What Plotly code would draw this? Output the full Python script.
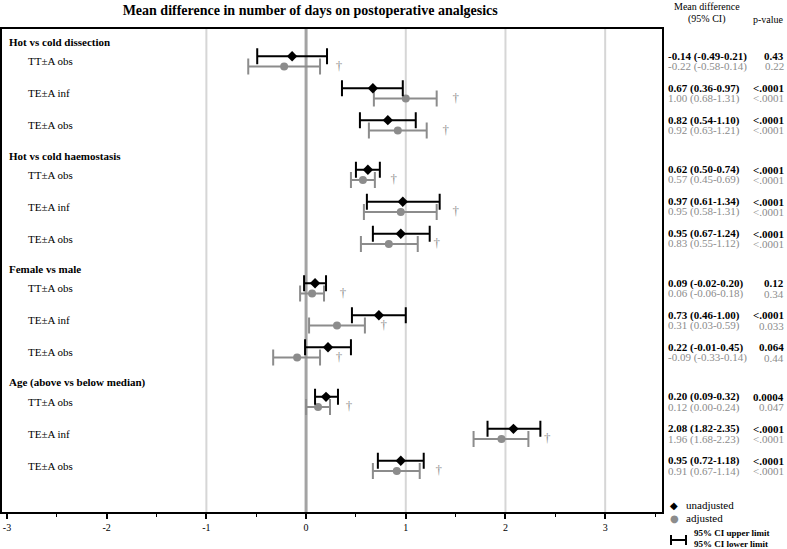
import plotly.graph_objects as go

# data
groups = ["Hot vs cold dissection", "Hot vs cold haemostasis",
          "Female vs male", "Age (above vs below median)"]
subgroups = ["TT±A obs", "TE±A inf", "TE±A obs"]

unadj_mean = [-0.14, 0.67, 0.82, 0.62, 0.97, 0.95, 0.09, 0.73, 0.22, 0.20, 2.08, 0.95]
unadj_low = [-0.49, 0.36, 0.54, 0.50, 0.61, 0.67, -0.02, 0.46, -0.01, 0.09, 1.82, 0.72]
unadj_high = [0.21, 0.97, 1.10, 0.74, 1.34, 1.24, 0.20, 1.00, 0.45, 0.32, 2.35, 1.18]
unadj_p = ["0.43", "<.0001", "<.0001", "<.0001", "<.0001", "<.0001",
           "0.12", "<.0001", "0.064", "0.0004", "<.0001", "<.0001"]

adj_mean = [-0.22, 1.00, 0.92, 0.57, 0.95, 0.83, 0.06, 0.31, -0.09, 0.12, 1.96, 0.91]
adj_low = [-0.58, 0.68, 0.63, 0.45, 0.58, 0.55, -0.06, 0.03, -0.33, 0.00, 1.68, 0.67]
adj_high = [0.14, 1.31, 1.21, 0.69, 1.31, 1.12, 0.18, 0.59, 0.14, 0.24, 2.23, 1.14]
adj_p = ["0.22", "<.0001", "<.0001", "<.0001", "<.0001", "<.0001",
         "0.34", "0.033", "0.44", "0.047", "<.0001", "<.0001"]

tick_vals = [-3, -2, -1, 0, 1, 2, 3]
tick_labels = ["-3", "-2", "-1", "0", "1", "2", "3"]
grid_at = [-1, 1, 2, 3]

FONT = "Times New Roman, Liberation Serif, serif"
GRAY = "#8c8c8c"

# row layout (y axis in row units, reversed)
group_step = 3.55
header_y = [g * group_step for g in range(len(groups))]
row_y = [h + 0.6 + k for h in header_y for k in range(len(subgroups))]
off = 0.16
y_unadj = [y - off for y in row_y]
y_adj = [y + off for y in row_y]

fig = go.Figure()

for v in grid_at:
    fig.add_vline(x=v, line=dict(color="#d6d6d6", width=2), layer="below")
fig.add_vline(x=0, line=dict(color="#a3a3a3", width=3), layer="below")

fig.add_trace(go.Scatter(
    x=adj_mean, y=y_adj, mode="markers",
    marker=dict(symbol="circle", size=8, color=GRAY),
    error_x=dict(type="data", symmetric=False,
                 array=[h - m for h, m in zip(adj_high, adj_mean)],
                 arrayminus=[m - l for m, l in zip(adj_mean, adj_low)],
                 color=GRAY, thickness=2, width=8),
    showlegend=False))

fig.add_trace(go.Scatter(
    x=unadj_mean, y=y_unadj, mode="markers",
    marker=dict(symbol="diamond", size=8, color="black"),
    error_x=dict(type="data", symmetric=False,
                 array=[h - m for h, m in zip(unadj_high, unadj_mean)],
                 arrayminus=[m - l for m, l in zip(unadj_mean, unadj_low)],
                 color="black", thickness=2, width=8),
    showlegend=False))

# daggers next to adjusted estimates
fig.add_trace(go.Scatter(
    x=[h + 0.19 for h in adj_high], y=y_adj, mode="text",
    text=["†"] * len(adj_high),
    textfont=dict(family=FONT, size=13, color="#909090"),
    showlegend=False))

# left labels
for g, name in enumerate(groups):
    fig.add_annotation(x=0, xref="paper", y=header_y[g], yref="y",
                       text="<b>" + name + "</b>", showarrow=False,
                       xanchor="left", xshift=5,
                       font=dict(family=FONT, size=11, color="black"))
    for k, sub in enumerate(subgroups):
        fig.add_annotation(x=0, xref="paper", y=row_y[g * 3 + k], yref="y",
                           text=sub, showarrow=False,
                           xanchor="left", xshift=24,
                           font=dict(family=FONT, size=11, color="black"))

# right side table
def ci_text(m, l, h):
    return f"{m:.2f} ({l:.2f}-{h:.2f})"

for i in range(len(row_y)):
    fig.add_annotation(x=1, xref="paper", y=y_unadj[i], yref="y",
                       text="<b>" + ci_text(unadj_mean[i], unadj_low[i], unadj_high[i]) + "</b>",
                       showarrow=False, xanchor="left", xshift=4,
                       font=dict(family=FONT, size=11, color="black"))
    fig.add_annotation(x=1, xref="paper", y=y_adj[i], yref="y",
                       text=ci_text(adj_mean[i], adj_low[i], adj_high[i]),
                       showarrow=False, xanchor="left", xshift=4,
                       font=dict(family=FONT, size=11, color=GRAY))
    fig.add_annotation(x=1, xref="paper", y=y_unadj[i], yref="y",
                       text="<b>" + unadj_p[i] + "</b>",
                       showarrow=False, xanchor="right", xshift=124,
                       font=dict(family=FONT, size=11, color="black"))
    fig.add_annotation(x=1, xref="paper", y=y_adj[i], yref="y",
                       text=adj_p[i],
                       showarrow=False, xanchor="right", xshift=124,
                       font=dict(family=FONT, size=11, color=GRAY))

hdr = dict(family=FONT, size=10, color="black")
fig.add_annotation(x=1, xref="paper", y=1, yref="paper", text="Mean difference",
                   showarrow=False, xanchor="center", yanchor="middle",
                   xshift=45, yshift=23, font=hdr)
fig.add_annotation(x=1, xref="paper", y=1, yref="paper", text="(95% CI)",
                   showarrow=False, xanchor="center", yanchor="middle",
                   xshift=45, yshift=10, font=hdr)
fig.add_annotation(x=1, xref="paper", y=1, yref="paper", text="p-value",
                   showarrow=False, xanchor="right", yanchor="middle",
                   xshift=124, yshift=10, font=hdr)

# custom legend below the table
fig.add_annotation(x=1, xref="paper", y=0, yref="paper", text="◆",
                   showarrow=False, xanchor="center", yanchor="middle",
                   xshift=12, yshift=7, font=dict(family="DejaVu Sans", size=10, color="black"))
fig.add_annotation(x=1, xref="paper", y=0, yref="paper", text="●",
                   showarrow=False, xanchor="center", yanchor="middle",
                   xshift=12, yshift=-6, font=dict(family="DejaVu Sans", size=10, color=GRAY))
fig.add_annotation(x=1, xref="paper", y=0, yref="paper", text="unadjusted",
                   showarrow=False, xanchor="left", yanchor="middle",
                   xshift=22, yshift=7, font=dict(family=FONT, size=11, color="black"))
fig.add_annotation(x=1, xref="paper", y=0, yref="paper", text="adjusted",
                   showarrow=False, xanchor="left", yanchor="middle",
                   xshift=22, yshift=-6, font=dict(family=FONT, size=11, color="black"))
fig.add_annotation(x=1, xref="paper", y=0, yref="paper", text="<b>95% CI upper limit</b>",
                   showarrow=False, xanchor="left", yanchor="middle",
                   xshift=30, yshift=-21, font=dict(family=FONT, size=9, color="black"))
fig.add_annotation(x=1, xref="paper", y=0, yref="paper", text="<b>95% CI lower limit</b>",
                   showarrow=False, xanchor="left", yanchor="middle",
                   xshift=30, yshift=-32, font=dict(family=FONT, size=9, color="black"))

# CI bracket glyph for the legend
pw, ph = 660, 483
def px(xp):
    return 1 + (xp - 662) / pw
def py(yp):
    return (512 - yp) / ph
for shp in [(671, 540, 686, 540), (671, 535, 671, 545), (686, 535, 686, 545)]:
    fig.add_shape(type="line", xref="paper", yref="paper",
                  x0=px(shp[0]), y0=py(shp[1]), x1=px(shp[2]), y1=py(shp[3]),
                  line=dict(color="black", width=2))

fig.update_layout(
    width=787, height=549,
    margin=dict(l=2, r=125, t=29, b=37),
    paper_bgcolor="white", plot_bgcolor="white",
    title=dict(text="<b>Mean difference in number of days on postoperative analgesics</b>",
               x=0.467, xref="paper", y=1 - 10 / 549, yref="container",
               xanchor="center", yanchor="middle",
               font=dict(family=FONT, size=14, color="black")),
    font=dict(family=FONT, color="black"),
)
fig.update_xaxes(range=[-3.05, 3.57], showgrid=False, zeroline=False,
                 showline=True, mirror=True, linecolor="black", linewidth=2,
                 tickmode="array", tickvals=tick_vals, ticktext=tick_labels,
                 ticks="outside", ticklen=5, tickwidth=2, tickcolor="black",
                 minor=dict(dtick=0.5, ticks="outside", ticklen=3, tickwidth=1,
                            tickcolor="black", showgrid=False),
                 tickfont=dict(family=FONT, size=10, color="black"))
fig.update_yaxes(range=[14.69, -0.41], showgrid=False, zeroline=False,
                 showline=True, mirror=True, linecolor="black", linewidth=2,
                 showticklabels=False, ticks="")

# page body has an 8px margin by default; drop it so the figure fills the window
fig.write_html("out.html", config={"displayModeBar": False},
               post_script="document.body.style.margin='0';")
